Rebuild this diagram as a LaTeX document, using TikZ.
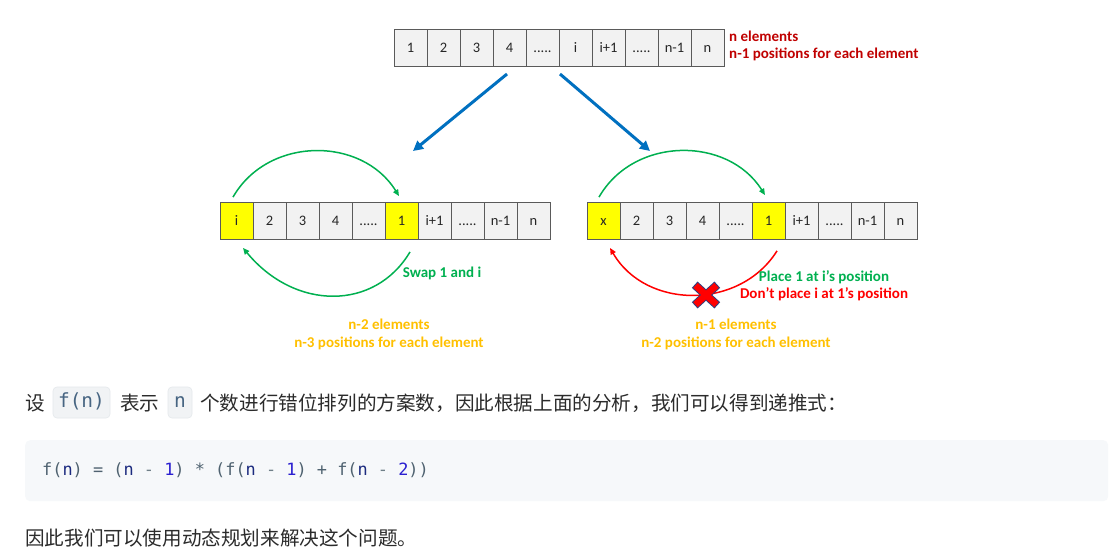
\documentclass[tikz,border=0pt]{standalone}
\usepackage{fontspec}
\setmainfont{Carlito}
\newfontfamily\cjk{Noto Sans CJK SC}
\newfontfamily\codefont{DejaVu Sans Mono}
\usetikzlibrary{arrows.meta}
\newcommand{\fivedots}{.....}
\definecolor{cellfill}{HTML}{F2F2F2}
\definecolor{cellborder}{HTML}{5A5A5A}
\definecolor{hlyellow}{HTML}{FFFF00}
\definecolor{okgreen}{HTML}{00B050}
\definecolor{darkred}{HTML}{C00000}
\definecolor{brightred}{HTML}{FF0000}
\definecolor{orangelbl}{HTML}{FFC000}
\definecolor{arrowblue}{HTML}{0070C0}
\definecolor{xoutline}{HTML}{2F3F7F}
\definecolor{bodytext}{HTML}{2B2B2B}
\definecolor{inlinecode}{HTML}{476582}
\definecolor{inlinebg}{HTML}{F1F3F5}
\definecolor{inlineborder}{HTML}{E4E8EC}
\definecolor{codebg}{HTML}{F6F8FA}
\definecolor{cgray}{HTML}{4F6270}
\definecolor{cnavy}{HTML}{1C2B7F}
\definecolor{cblue}{HTML}{2A1FD0}
\definecolor{cdash}{HTML}{6F7F88}
\begin{document}
\begin{tikzpicture}[x=1pt,y=-1pt,
  cell/.style={draw=cellborder, fill=cellfill, line width=0.8pt, minimum width=33pt, minimum height=37pt,
    inner sep=0pt, text height=9.5pt, text depth=0pt, text=black!85, font=\fontsize{14.5}{16}\selectfont},
  hl/.style={cell, fill=hlyellow},
  lbl/.style={inner sep=0pt, font=\fontsize{15}{17}\selectfont\bfseries},
  greenarc/.style={draw=okgreen, line width=1.5pt, -{Triangle[length=6.5pt,width=5.5pt]}},
  redarc/.style={draw=brightred, line width=1.5pt, -{Triangle[length=6.5pt,width=5.5pt]}},
  bluearrow/.style={draw=arrowblue, line width=3pt, -{Triangle[length=10pt,width=10pt]}},
  zh/.style={inner sep=0pt, text=bodytext, font=\cjk\fontsize{19.6}{22}\selectfont},
  inl/.style={fill=inlinebg, draw=inlineborder, line width=0.6pt, rounded corners=4pt, inner sep=0pt,
    minimum height=31pt, text height=13pt, text depth=3pt, text=inlinecode, font=\codefont\fontsize{19.5}{22}\selectfont}
]
\useasboundingbox (0,0) rectangle (1111,547);
\fill[white] (0,0) rectangle (1111,547);

% top array
\foreach \t [count=\k] in {1,2,3,4,\fivedots,i,i+1,\fivedots,n-1,n}
  \node[cell] (T\k) at (394+33*\k-16.5, 47.5) {\t};
\node[lbl, text=darkred, anchor=base west] (topA) at (729,41) {n elements};
\node[lbl, text=darkred, anchor=base west] (topB) at (729,58) {n-1 positions for each element};

% blue arrows
\coordinate (BA1) at (507,74);
\coordinate (BA2) at (413,151);
\coordinate (BA3) at (560,74);
\coordinate (BA4) at (650,151);
\draw[bluearrow] (BA1) -- (BA2);
\draw[bluearrow] (BA3) -- (BA4);

% left array
\foreach \t/\s [count=\k] in {i/hl,2/cell,3/cell,4/cell,\fivedots/cell,1/hl,i+1/cell,\fivedots/cell,n-1/cell,n/cell}
  \node[\s] (L\k) at (220+33*\k-16.5, 221) {\t};
% right array
\foreach \t/\s [count=\k] in {x/hl,2/cell,3/cell,4/cell,\fivedots/cell,1/hl,i+1/cell,\fivedots/cell,n-1/cell,n/cell}
  \node[\s] (R\k) at (587+33*\k-16.5, 221) {\t};

% left arcs
\draw[greenarc] ([xshift=-3.5pt,yshift=5pt]L1.north) .. controls +(35,-61) and +(-37,-60) .. ([xshift=-2.5pt,yshift=6pt]L6.north);
\draw[greenarc] ([xshift=8.5pt,yshift=-12pt]L6.south) .. controls +(-35,59) and +(52,63) .. ([xshift=6.5pt,yshift=-8pt]L1.south);
\node[lbl, text=okgreen, anchor=base] (swap) at (442,277) {Swap 1 and i};

% right arcs
\draw[greenarc] ([xshift=-4.5pt,yshift=5pt]R1.north) .. controls +(35,-61) and +(-37,-59) .. ([xshift=-3.5pt,yshift=7pt]R6.north);
\draw[redarc] ([xshift=8.5pt,yshift=-11pt]R6.south) .. controls +(-37,59) and +(36,62) .. ([xshift=6.5pt,yshift=-8pt]R1.south);

% red cross
\coordinate (X) at (706,295);
\draw[xoutline, line width=8.5pt] ([shift={(-11.3,-10.3)}]X) -- ([shift={(11.3,10.3)}]X)
  ([shift={(-11.3,10.3)}]X) -- ([shift={(11.3,-10.3)}]X);
\draw[brightred, line width=6.6pt] ([shift={(-10.5,-9.6)}]X) -- ([shift={(10.5,9.6)}]X)
  ([shift={(-10.5,9.6)}]X) -- ([shift={(10.5,-9.6)}]X);

\node[lbl, text=okgreen, anchor=base] (place) at (824,281) {Place 1 at i’s position};
\node[lbl, text=brightred, anchor=base] (dont) at (824,298) {Don’t place i at 1’s position};

% orange labels
\node[lbl, text=orangelbl, anchor=base] (oa) at (389,329) {n-2 elements};
\node[lbl, text=orangelbl, anchor=base] (ob) at (389,347) {n-3 positions for each element};
\node[lbl, text=orangelbl, anchor=base] (oc) at (736,329) {n-1 elements};
\node[lbl, text=orangelbl, anchor=base] (od) at (736,347) {n-2 positions for each element};

% text line 1
\node[zh, anchor=base west] (s1) at (25,410) {设};
\node[inl, minimum width=57pt] (c1) at (81.5,402.5) {f(n)};
\node[zh, anchor=base west] (s2) at (120,410) {表示};
\node[inl, minimum width=24pt] (c2) at (180,402.5) {n};
\node[zh, anchor=base west] (s3) at (200,410) {个数进行错位排列的方案数，因此根据上面的分析，我们可以得到递推式：};

% code block
\node[fill=codebg, rounded corners=5pt, minimum width=1083pt, minimum height=61pt, inner sep=0pt, anchor=north west] (codebox) at (25,440) {};
\node[inner sep=0pt, anchor=base west, font=\codefont\fontsize{16.9}{20}\selectfont] (code) at (42,475.5)
 {\color{cgray}f(\color{cnavy}n\color{cgray})\ =\ (\color{cnavy}n\ \color{cdash}-\ \color{cblue}1\color{cgray})\ *\ (f(\color{cnavy}n\ \color{cdash}-\ \color{cblue}1\color{cgray})\ +\ f(\color{cnavy}n\ \color{cdash}-\ \color{cblue}2\color{cgray}))};

% text last line
\node[zh, anchor=base west] (s4) at (25,545) {因此我们可以使用动态规划来解决这个问题。};
\end{tikzpicture}
\end{document}
